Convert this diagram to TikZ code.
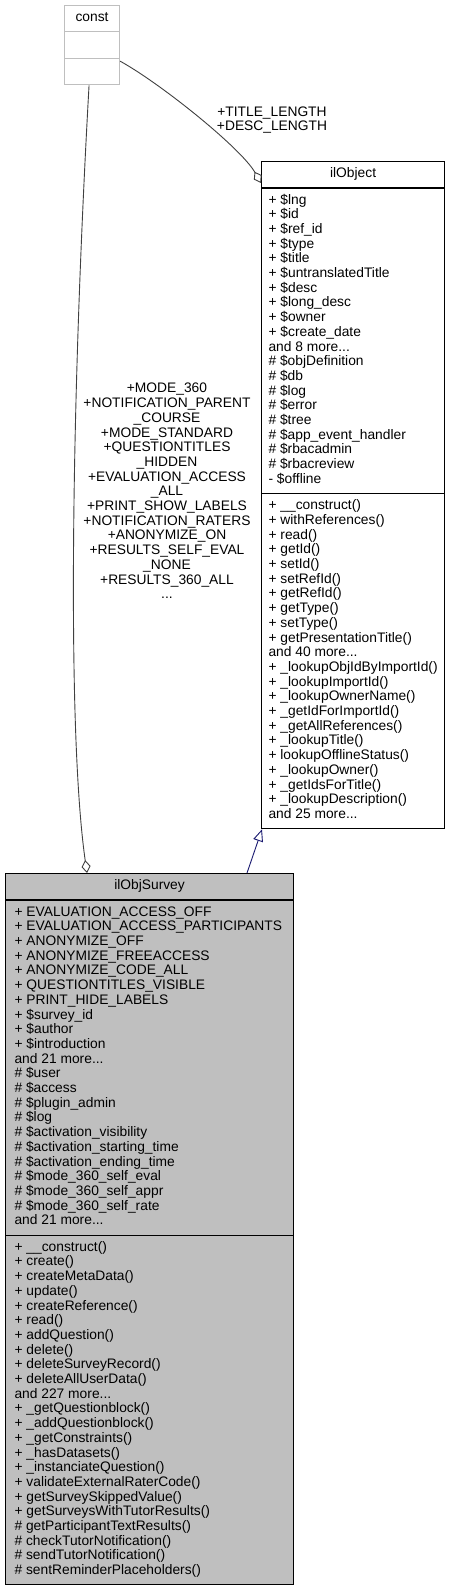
\documentclass[tikz,border=0pt]{standalone}
\usepackage{fontspec}
\setmainfont{Liberation Sans}
\usetikzlibrary{arrows.meta,shapes.multipart,positioning}
\definecolor{boxgray}{HTML}{BFBFBF}
\definecolor{edgegray}{HTML}{404040}
\definecolor{inhblue}{HTML}{191970}
\newcommand{\umlfont}{\fontsize{13.8}{14.7}\selectfont}

\begin{document}
\begin{tikzpicture}[x=1pt, y=-1pt,
    cls/.style={draw, line width=1.1pt, rectangle split, rectangle split parts=3,
        rectangle split part align={center,left,left}, inner xsep=9pt, inner ysep=5.3pt,
        font=\umlfont, anchor=north west},
    agg/.style={-{Diamond[open, length=13pt, width=9pt]}, edgegray, line width=0.9pt},
    inh/.style={-{Triangle[open, length=12pt, width=10pt]}, inhblue, line width=0.9pt},
    lbl/.style={font=\umlfont, align=center, inner sep=0pt}
]
\useasboundingbox (0,0) rectangle (449,1587);

\node[cls, draw=boxgray, minimum width=55pt] (const) at (64,5) {\strut const \nodepart{two} \strut \nodepart{three} \strut};

\node[cls, inner xsep=7pt, minimum width=182pt] (obj) at (261,161) {\strut ilObject
\nodepart{two}
\begin{tabular}{@{}l@{}}
+ \$lng\\
+ \$id\\
+ \$ref\_id\\
+ \$type\\
+ \$title\\
+ \$untranslatedTitle\\
+ \$desc\\
+ \$long\_desc\\
+ \$owner\\
+ \$create\_date\\
and 8 more...\\
\# \$objDefinition\\
\# \$db\\
\# \$log\\
\# \$error\\
\# \$tree\\
\# \$app\_event\_handler\\
\# \$rbacadmin\\
\# \$rbacreview\\
- \$offline
\end{tabular}
\nodepart{three}
\begin{tabular}{@{}l@{}}
+ \_\_construct()\\
+ withReferences()\\
+ read()\\
+ getId()\\
+ setId()\\
+ setRefId()\\
+ getRefId()\\
+ getType()\\
+ setType()\\
+ getPresentationTitle()\\
and 40 more...\\
+ \_lookupObjIdByImportId()\\
+ \_lookupImportId()\\
+ \_lookupOwnerName()\\
+ \_getIdForImportId()\\
+ \_getAllReferences()\\
+ \_lookupTitle()\\
+ lookupOfflineStatus()\\
+ \_lookupOwner()\\
+ \_getIdsForTitle()\\
+ \_lookupDescription()\\
and 25 more...
\end{tabular}};

\node[cls, fill=boxgray, minimum width=288pt] (survey) at (5,873) {\strut ilObjSurvey
\nodepart{two}
\begin{tabular}{@{}l@{}}
+ EVALUATION\_ACCESS\_OFF\\
+ EVALUATION\_ACCESS\_PARTICIPANTS\\
+ ANONYMIZE\_OFF\\
+ ANONYMIZE\_FREEACCESS\\
+ ANONYMIZE\_CODE\_ALL\\
+ QUESTIONTITLES\_VISIBLE\\
+ PRINT\_HIDE\_LABELS\\
+ \$survey\_id\\
+ \$author\\
+ \$introduction\\
and 21 more...\\
\# \$user\\
\# \$access\\
\# \$plugin\_admin\\
\# \$log\\
\# \$activation\_visibility\\
\# \$activation\_starting\_time\\
\# \$activation\_ending\_time\\
\# \$mode\_360\_self\_eval\\
\# \$mode\_360\_self\_appr\\
\# \$mode\_360\_self\_rate\\
and 21 more...
\end{tabular}
\nodepart{three}
\begin{tabular}{@{}l@{}}
+ \_\_construct()\\
+ create()\\
+ createMetaData()\\
+ update()\\
+ createReference()\\
+ read()\\
+ addQuestion()\\
+ delete()\\
+ deleteSurveyRecord()\\
+ deleteAllUserData()\\
and 227 more...\\
+ \_getQuestionblock()\\
+ \_addQuestionblock()\\
+ \_getConstraints()\\
+ \_hasDatasets()\\
+ \_instanciateQuestion()\\
+ validateExternalRaterCode()\\
+ getSurveySkippedValue()\\
+ getSurveysWithTutorResults()\\
\# getParticipantTextResults()\\
\# checkTutorNotification()\\
\# sendTutorNotification()\\
\# sentReminderPlaceholders()
\end{tabular}};

\node[lbl] (lenlbl) at (272,120) {+TITLE\_LENGTH\\+DESC\_LENGTH};
\node[lbl] (constlbl) at (167,491) {+MODE\_360\\+NOTIFICATION\_PARENT\\\_COURSE\\+MODE\_STANDARD\\+QUESTIONTITLES\\\_HIDDEN\\+EVALUATION\_ACCESS\\\_ALL\\+PRINT\_SHOW\_LABELS\\+NOTIFICATION\_RATERS\\+ANONYMIZE\_ON\\+RESULTS\_SELF\_EVAL\\\_NONE\\+RESULTS\_360\_ALL\\...};

\draw[agg] ([xshift=-3pt]const.south) .. controls +(-18,320) and +(-20,-140) .. ([xshift=82pt]survey.north west);
\draw[agg] ([yshift=-16pt]const.east) .. controls +(40,22) and +(-20,-35) .. ([yshift=-22pt]obj.north west);
\draw[inh] ([xshift=242pt]survey.north west) -- ([xshift=1pt]obj.south west);
\end{tikzpicture}
\end{document}
